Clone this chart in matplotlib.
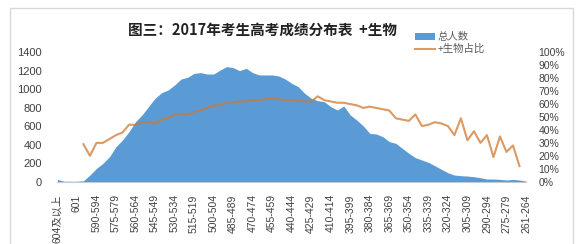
import matplotlib
matplotlib.use("Agg")
import matplotlib.pyplot as plt
import numpy as np
from matplotlib.patches import Patch, Rectangle
from matplotlib.lines import Line2D
from matplotlib.ticker import FuncFormatter

plt.rcParams['font.family'] = ['Liberation Sans', 'Noto Sans CJK SC', 'DejaVu Sans']

# ---- data ----
categories = (["604及以上", "603", "602", "601", "600"]
              + [f"{s}-{s+4}" for s in range(595, 264, -5)]
              + ["261-264"])

total_count = [25, 5, 5, 5, 10, 72, 144, 198, 270, 379,
               451, 541, 649, 722, 812, 902, 963, 992, 1046, 1111,
               1129, 1172, 1180, 1165, 1165, 1208, 1245, 1234, 1201, 1227,
               1180, 1155, 1155, 1155, 1144, 1111, 1064, 1028, 956, 902,
               877, 866, 812, 776, 819, 722, 667, 603, 523, 516,
               487, 433, 415, 361, 307, 260, 235, 209, 173, 134,
               97, 72, 65, 61, 54, 43, 29, 29, 25, 18,
               25, 18, 7]

bio_ratio = [None, None, None, None, 29, 20, 30, 30, 33, 36,
             38, 44, 44, 46, 46, 45, 48, 49, 52, 52,
             52, 54, 55, 57, 59, 59, 61, 61, 62, 62,
             63, 63, 64, 64, 64, 63, 63, 63, 62, 62,
             66, 63, 62, 61, 61, 60, 59, 57, 58, 57,
             56, 55, 49, 48, 47, 52, 43, 44, 46, 45,
             43, 36, 49, 32, 39, 30, 36, 19, 35, 23,
             28, 12, None]

left_ticks = [0, 200, 400, 600, 800, 1000, 1200, 1400]
right_ticks = [0, 10, 20, 30, 40, 50, 60, 70, 80, 90, 100]

title = "图三：2017年考生高考成绩分布表  +生物"
legend_labels = ["总人数", "+生物占比"]

# ---- figure ----
W, H = 581, 244
fig = plt.figure(figsize=(W / 100, H / 100), dpi=100)

# outer frame
fig.patches.append(Rectangle((10 / W, -0.05), (573 - 10) / W, 1.05 - 8 / H,
                             transform=fig.transFigure, fill=False,
                             edgecolor='#D9D9D9', linewidth=1.0))

left, right = 57.4 / W, 526 / W
bottom, top = (H - 181.7) / H, (H - 52.3) / H
ax = fig.add_axes([left, bottom, right - left, top - bottom])

x = np.arange(len(categories))
blue = '#5B9BD5'
orange = '#D07830'

ax.fill_between(x, total_count, 0, color=blue, linewidth=0, zorder=2)
ax.set_xlim(0, len(categories) - 1)
ax.set_ylim(0, 1400)
ax.set_yticks(left_ticks)
ax.set_xticks(x[::3])
ax.set_xticklabels([categories[i] for i in x[::3]], rotation=90,
                   fontsize=7.5, color='#404040')
ax.tick_params(axis='x', length=0, pad=9)
ax.tick_params(axis='y', length=0, pad=11, labelsize=8, labelcolor='#404040')
for s in ['top', 'left', 'right']:
    ax.spines[s].set_visible(False)
ax.spines['bottom'].set_color('#D9D9D9')
ax.spines['bottom'].set_zorder(1)

ax2 = ax.twinx()
ratio = np.array([np.nan if v is None else v for v in bio_ratio], dtype=float)
ax2.plot(x, ratio / 100.0, color=orange, linewidth=1.5, alpha=0.75, zorder=3)
ax2.set_ylim(0, 1)
ax2.set_yticks([t / 100 for t in right_ticks])
ax2.yaxis.set_major_formatter(FuncFormatter(lambda v, p: f"{round(v * 100)}%"))
ax2.tick_params(axis='y', length=0, pad=9, labelsize=7.5, labelcolor='#404040')
for s in ['top', 'left', 'right', 'bottom']:
    ax2.spines[s].set_visible(False)

fig.text(262 / W, 1 - 30 / H, title, ha='center', va='center',
         fontsize=10.5, fontweight='bold', color='#222222',
         family=['Noto Sans CJK SC', 'DejaVu Sans'])

handles = [Patch(facecolor=blue, edgecolor='none'),
           Line2D([], [], color=orange, linewidth=1.5, alpha=0.75)]
leg = fig.legend(handles, legend_labels, loc='upper left',
                 bbox_to_anchor=(409 / W, 1 - 26 / H), frameon=False,
                 fontsize=7.5, handlelength=1.9, handleheight=0.6,
                 handletextpad=0.2, labelspacing=0.15, borderpad=0.1,
                 prop={'family': ['Noto Sans CJK SC', 'DejaVu Sans'], 'size': 7.5})
for t in leg.get_texts():
    t.set_color('#595959')

fig.savefig('out.png', dpi=100)
